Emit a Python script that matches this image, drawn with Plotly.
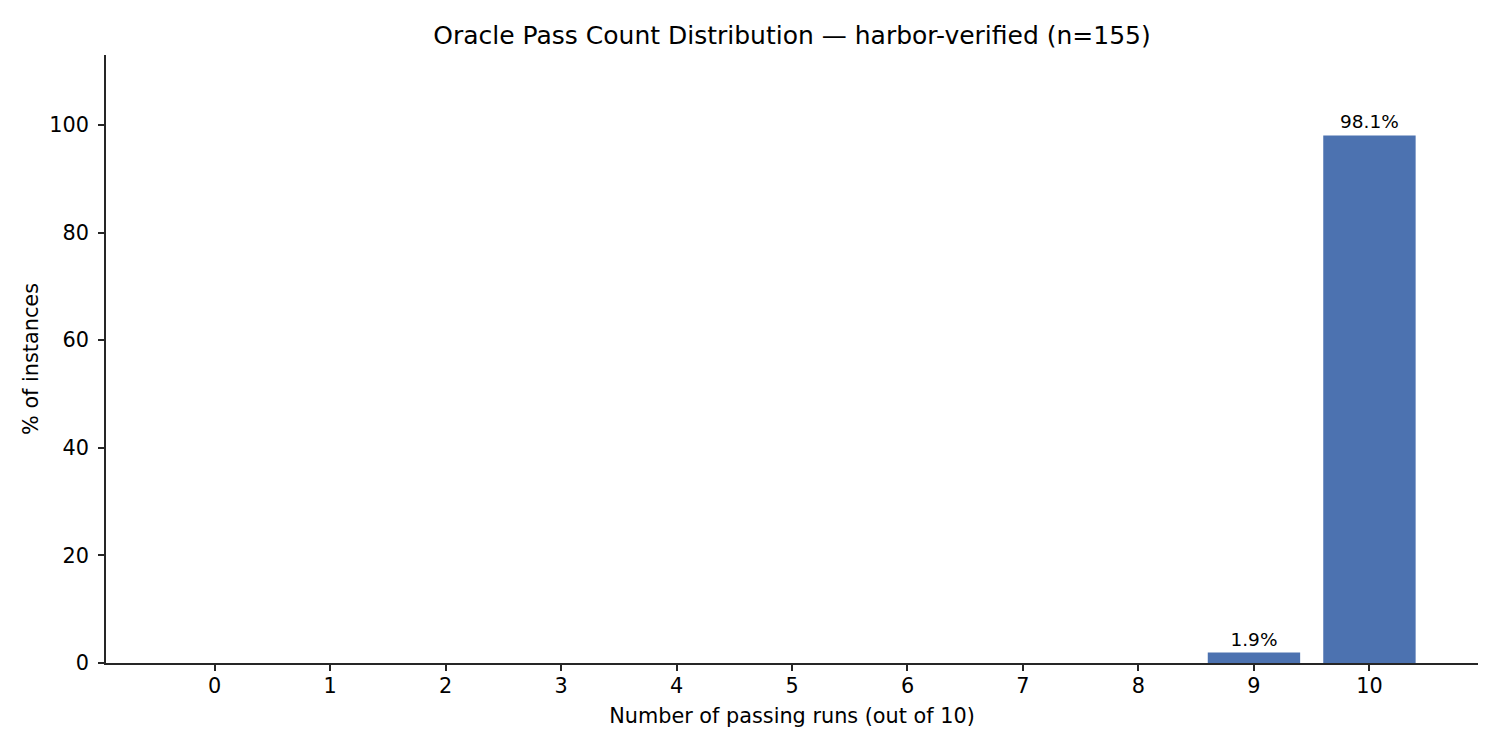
import plotly.graph_objects as go

pass_counts = [0, 1, 2, 3, 4, 5, 6, 7, 8, 9, 10]
pct_instances = [0, 0, 0, 0, 0, 0, 0, 0, 0, 1.94, 98.06]
tick_labels = [str(c) for c in pass_counts]

bar_text = [f"{v:.1f}%" if v > 0 else "" for v in pct_instances]

font = "DejaVu Sans"
fig = go.Figure(
    go.Bar(
        x=pass_counts,
        y=pct_instances,
        width=0.8,
        marker=dict(color="#4C72B0", line=dict(width=0)),
        text=bar_text,
        textposition="outside",
        textfont=dict(family=font, size=18.5, color="#000000"),
        cliponaxis=False,
        hoverinfo="x+y",
    )
)

fig.update_layout(
    width=1500,
    height=750,
    margin=dict(l=106, r=22, t=55, b=87),
    paper_bgcolor="white",
    plot_bgcolor="white",
    showlegend=False,
    uniformtext=dict(minsize=0),
    title=dict(
        text="Oracle Pass Count Distribution — harbor-verified (n=155)",
        x=0.5 * (106 + 1478) / 1500,
        xanchor="center",
        y=1 - 35 / 750,
        yanchor="middle",
        font=dict(family=font, size=25, color="#000000"),
    ),
    font=dict(family=font, color="#000000"),
)
fig.update_xaxes(
    range=[-0.94, 10.94],
    tickmode="array",
    tickvals=pass_counts,
    ticktext=tick_labels,
    showline=True,
    linecolor="#262626",
    linewidth=1.6,
    ticks="outside",
    ticklen=6,
    tickwidth=1.6,
    tickcolor="#262626",
    ticklabelstandoff=-3,
    showgrid=False,
    zeroline=False,
    tickfont=dict(family=font, size=20.8, color="#000000"),
    title=dict(text="Number of passing runs (out of 10)", font=dict(family=font, size=20.8, color="#000000"), standoff=12),
)
fig.update_yaxes(
    range=[0, 113],
    tickmode="array",
    tickvals=[0, 20, 40, 60, 80, 100],
    showline=True,
    linecolor="#262626",
    linewidth=1.6,
    ticks="outside",
    ticklen=6,
    tickwidth=1.6,
    tickcolor="#262626",
    ticklabelstandoff=5,
    showgrid=False,
    zeroline=False,
    tickfont=dict(family=font, size=20.8, color="#000000"),
    title=dict(text="% of instances", font=dict(family=font, size=20.8, color="#000000"), standoff=5),
)

fig.write_html("out.html")
